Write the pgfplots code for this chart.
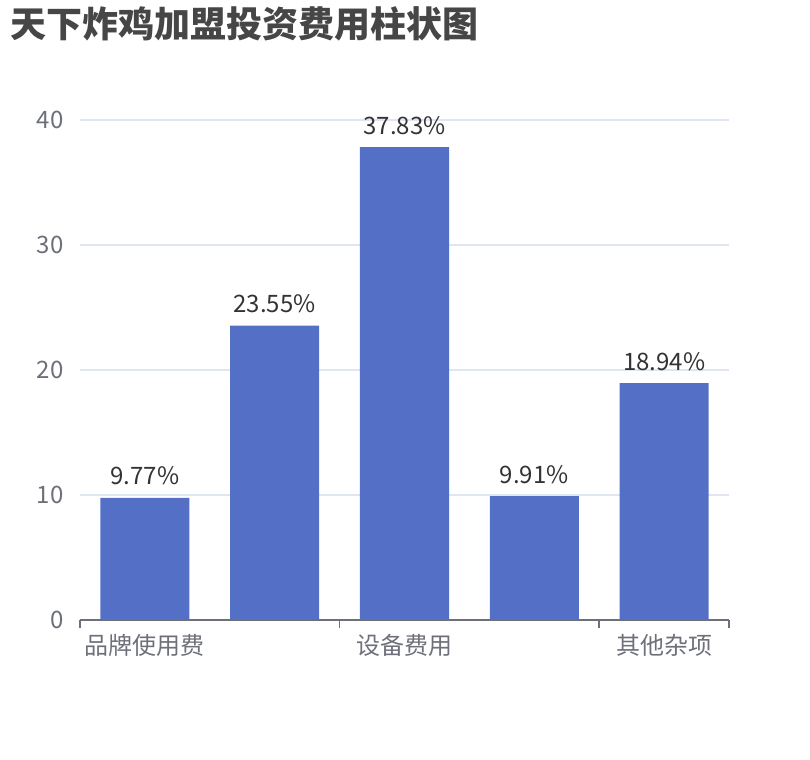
\documentclass[border=0pt]{standalone}
\usepackage{fontspec}
\setmainfont{Noto Sans CJK SC}
\usepackage{pgfplots}
\pgfplotsset{compat=1.18}
\definecolor{barblue}{HTML}{5470C6}
\definecolor{gridc}{HTML}{E0E6F1}
\definecolor{axisc}{HTML}{6E7079}
\definecolor{titlec}{HTML}{464646}
\definecolor{labelc}{HTML}{333333}

\begin{document}
\begin{tikzpicture}
% page frame: 810 x 760 px at 0.5pt per px
\path (0,0) rectangle (405pt,380pt);
\node[anchor=base west, inner sep=0pt, text=titlec,
      font=\fontsize{18}{22}\selectfont\bfseries] at (5pt,361pt) {天下炸鸡加盟投资费用柱状图};
\begin{axis}[
    at={(40pt,70pt)}, anchor=south west,
    scale only axis, width=324.5pt, height=250pt,
    clip=false,
    ybar, bar width=0.686,
    xmin=-0.5, xmax=4.5, ymin=0, ymax=40,
    ytick={0,10,20,30,40},
    xtick={0,2,4},
    xticklabels={品牌使用费,设备费用,其他杂项},
    major tick length=0pt,
    extra x ticks={-0.5,1.5,3.5,4.5},
    extra x tick labels={},
    extra x tick style={major tick length=4pt, tick align=outside, grid=none,
        major tick style={draw=axisc, line width=0.9pt}},
    axis x line*=bottom, axis y line*=left,
    x axis line style={draw=axisc, line width=0.9pt, -},
    y axis line style={draw=none},
    ymajorgrids,
    grid style={draw=gridc, line width=0.75pt},
    ticklabel style={font=\fontsize{12}{14}\selectfont, text=axisc},
    yticklabel style={inner sep=0pt, xshift=-8pt},
    xticklabel style={inner sep=0pt, yshift=-7pt},
    /pgf/number format/assume math mode=true,
]
\addplot[fill=barblue, draw=none,
    nodes near coords={\pgfmathprintnumber[fixed,fixed zerofill,precision=2]{\pgfplotspointmeta}\%},
    nodes near coords style={font=\fontsize{12}{14}\selectfont, text=labelc,
        anchor=base, inner sep=0pt, yshift=6.5pt}]
    coordinates {(0,9.77) (1,23.55) (2,37.83) (3,9.91) (4,18.94)};
\end{axis}
\end{tikzpicture}
\end{document}
